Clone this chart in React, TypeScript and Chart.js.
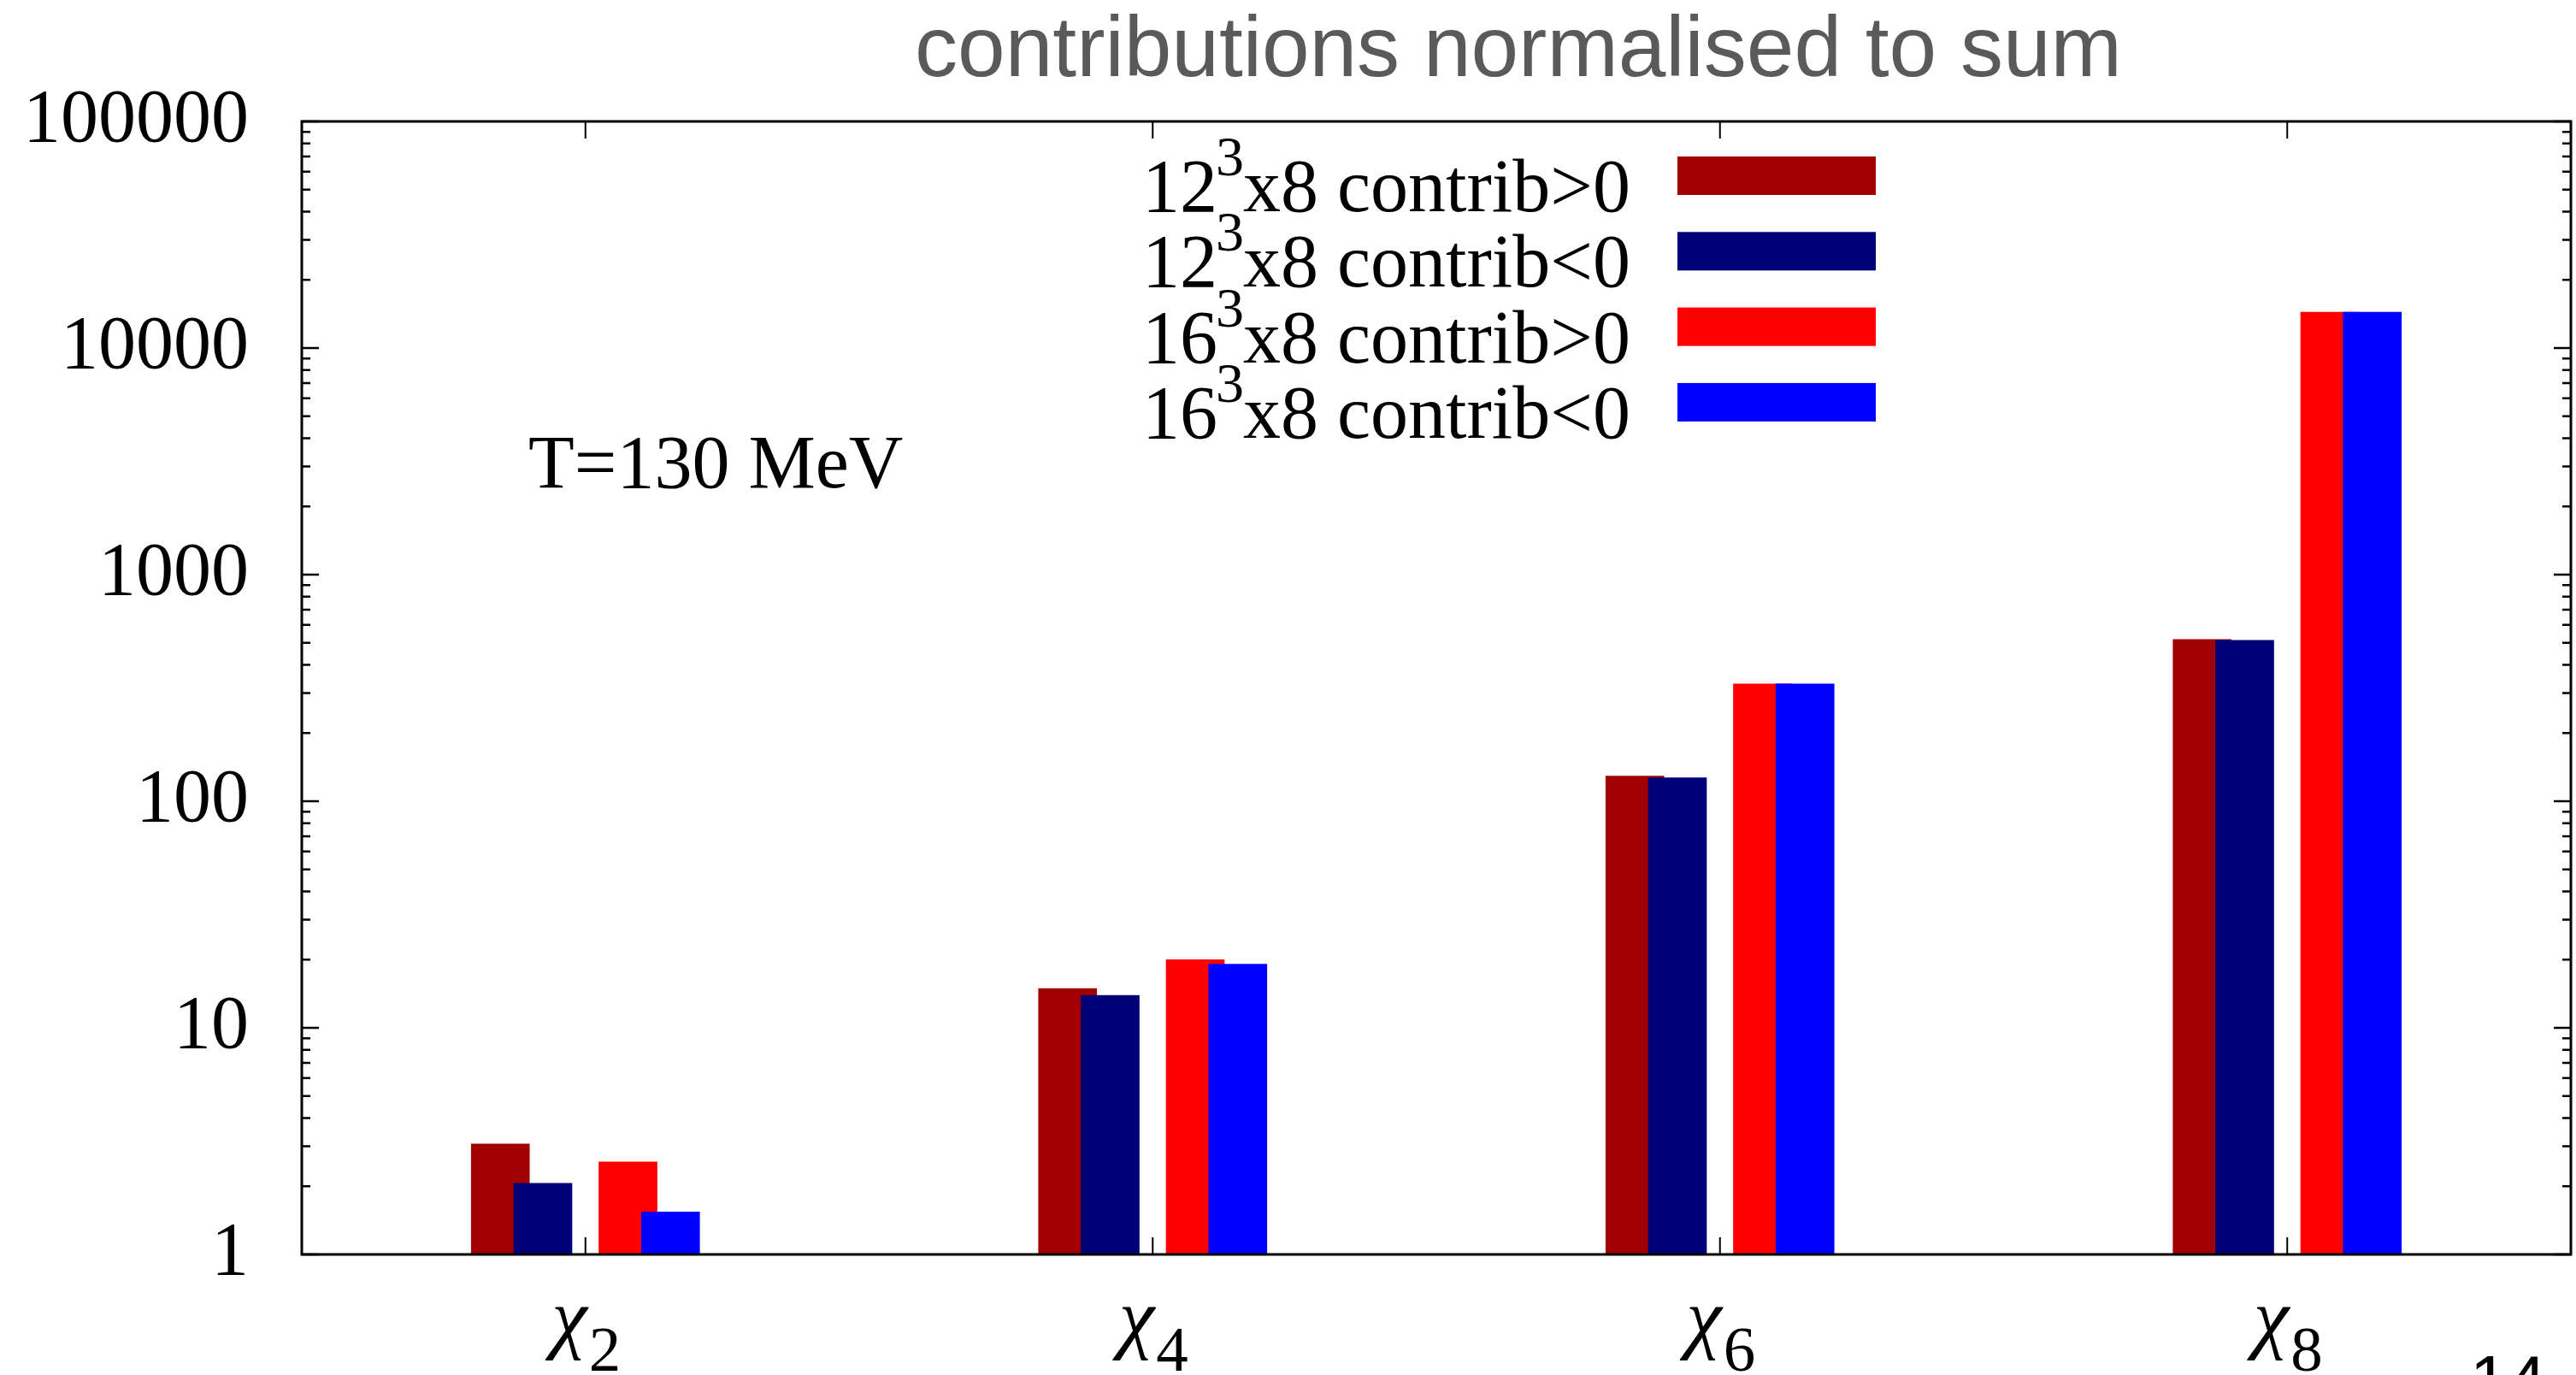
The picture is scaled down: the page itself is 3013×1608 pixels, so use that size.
import React, { useEffect, useRef } from "react";
import { Chart, registerables } from "chart.js";

Chart.register(...registerables);

const W = 3013;
const H = 1608;

const categories = ["χ2", "χ4", "χ6", "χ8"];
const pos12 = [3.07, 14.9, 129, 517];
const neg12 = [2.06, 13.9, 127, 513];
const pos16 = [2.56, 20.0, 329, 14400];
const neg16 = [1.54, 19.1, 329, 14400];
const yTickValues = [1, 10, 100, 1000, 10000, 100000];
const seriesLabels = ["12³x8 contrib>0", "12³x8 contrib<0", "16³x8 contrib>0", "16³x8 contrib<0"];
const seriesColors = ["#a00000", "#000078", "#ff0000", "#0000ff"];
const titleText = "contributions normalised to sum";
const annotationText = "T=130 MeV";
const pageNumber = "14";

const SERIF = "'Liberation Serif', 'Times New Roman', serif";
const SANS = "'Liberation Sans', Arial, sans-serif";

const decorPlugin = {
  id: "decor",
  afterDraw(chart: any) {
    const ctx = chart.ctx as CanvasRenderingContext2D;
    const area = chart.chartArea;
    const xs = chart.scales.x;
    const ys = chart.scales.y;
    ctx.save();

    // frame
    ctx.strokeStyle = "#000";
    ctx.lineWidth = 3;
    ctx.strokeRect(area.left, area.top, area.right - area.left, area.bottom - area.top);

    // y ticks (inward, mirrored)
    ctx.lineWidth = 2.5;
    for (let d = 0; d < yTickValues.length; d++) {
      const dec = yTickValues[d];
      const yp = ys.getPixelForValue(dec);
      ctx.beginPath();
      ctx.moveTo(area.left, yp);
      ctx.lineTo(area.left + 20, yp);
      ctx.moveTo(area.right, yp);
      ctx.lineTo(area.right - 20, yp);
      ctx.stroke();
      if (d < yTickValues.length - 1) {
        for (let k = 2; k <= 9; k++) {
          const ym = ys.getPixelForValue(dec * k);
          ctx.beginPath();
          ctx.moveTo(area.left, ym);
          ctx.lineTo(area.left + 10, ym);
          ctx.moveTo(area.right, ym);
          ctx.lineTo(area.right - 10, ym);
          ctx.stroke();
        }
      }
    }

    // x ticks (inward, mirrored) and labels
    for (let i = 0; i < categories.length; i++) {
      const xp = xs.getPixelForValue(i);
      ctx.lineWidth = 2;
      ctx.beginPath();
      ctx.moveTo(xp, area.bottom);
      ctx.lineTo(xp, area.bottom - 20);
      ctx.moveTo(xp, area.top);
      ctx.lineTo(xp, area.top + 20);
      ctx.stroke();

      const base = categories[i].charAt(0);
      const sub = categories[i].slice(1);
      ctx.fillStyle = "#000";
      ctx.textBaseline = "alphabetic";
      ctx.textAlign = "left";
      ctx.font = `italic 94px ${SERIF}`;
      const w1 = ctx.measureText(base).width;
      ctx.font = `75px ${SERIF}`;
      const w2 = ctx.measureText(sub).width;
      const start = xp - (w1 + w2) / 2;
      ctx.font = `italic 94px ${SERIF}`;
      ctx.fillText(base, start, 1571);
      ctx.font = `75px ${SERIF}`;
      ctx.fillText(sub, start + w1 + 2, 1603);
    }

    // title
    ctx.fillStyle = "#5a5a5a";
    ctx.font = `100px ${SANS}`;
    ctx.textAlign = "center";
    ctx.textBaseline = "alphabetic";
    ctx.fillText(titleText, 1776, 89);

    // legend
    ctx.textAlign = "left";
    for (let s = 0; s < seriesLabels.length; s++) {
      const baseline = 247 + s * 88.3;
      const parts = seriesLabels[s].split("³");
      let x = 1336;
      ctx.fillStyle = "#000";
      ctx.font = `88px ${SERIF}`;
      ctx.fillText(parts[0], x, baseline);
      x += ctx.measureText(parts[0]).width;
      ctx.font = `66px ${SERIF}`;
      ctx.fillText("3", x - 2, baseline - 42);
      x += ctx.measureText("3").width - 3;
      ctx.font = `88px ${SERIF}`;
      ctx.fillText(parts[1], x, baseline);
      ctx.fillStyle = seriesColors[s];
      ctx.fillRect(1962, baseline - 64, 232, 45);
    }

    // annotation
    ctx.fillStyle = "#000";
    ctx.font = `88px ${SERIF}`;
    ctx.fillText(annotationText, 618, 570);

    // page number
    ctx.font = `80px ${SANS}`;
    ctx.fillText(pageNumber, 2889, 1641);

    ctx.restore();
  },
};

export default function App() {
  const ref = useRef<HTMLCanvasElement | null>(null);

  useEffect(() => {
    if (!ref.current) return;
    const offsets = [-0.15, -0.075, 0.075, 0.15];
    const orders = [2, 1, 2, 1];
    const series = [pos12, neg12, pos16, neg16];
    const chart = new Chart(ref.current, {
      type: "bar",
      data: {
        datasets: series.map((vals, s) => ({
          label: seriesLabels[s],
          data: vals.map((v, i) => ({ x: i + offsets[s], y: v })),
          backgroundColor: seriesColors[s],
          borderWidth: 0,
          grouped: false,
          barThickness: 68,
          order: orders[s],
        })),
      },
      options: {
        animation: false,
        responsive: false,
        maintainAspectRatio: false,
        devicePixelRatio: 1,
        layout: { padding: { top: 142, right: 6, left: 0, bottom: 0 } },
        plugins: {
          legend: { display: false },
          title: { display: false },
          tooltip: { enabled: false },
        },
        scales: {
          x: {
            type: "linear",
            min: -0.5,
            max: 3.5,
            offset: false,
            grid: { display: false },
            border: { display: false },
            ticks: { display: false },
            afterFit: (scale: any) => {
              scale.height = H - 1467;
            },
          },
          y: {
            type: "logarithmic",
            min: 1,
            max: 100000,
            grid: { display: false },
            border: { display: false },
            afterBuildTicks: (scale: any) => {
              scale.ticks = yTickValues.map((v) => ({ value: v }));
            },
            afterFit: (scale: any) => {
              scale.width = 353;
            },
            ticks: {
              autoSkip: false,
              padding: 54,
              color: "#000",
              font: { family: SERIF, size: 88 },
              callback: (v: any) => String(Number(v)),
            },
          },
        },
      },
      plugins: [decorPlugin],
    } as any);
    return () => chart.destroy();
  }, []);

  return (
    <div style={{ position: "absolute", left: 0, top: 0, width: W, height: H, background: "#fff" }}>
      <canvas ref={ref} width={W} height={H} style={{ width: W, height: H, display: "block" }} />
    </div>
  );
}
